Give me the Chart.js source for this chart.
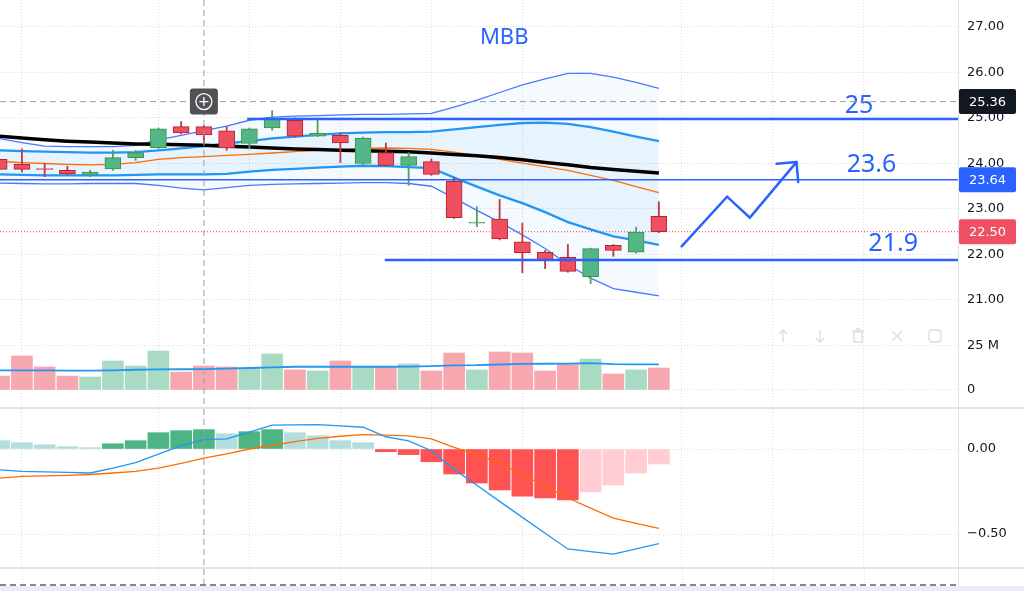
<!DOCTYPE html>
<html lang="en">
<head>
<meta charset="utf-8">
<title>MBB</title>
<script src="https://cdn.jsdelivr.net/npm/chart.js@4.4.1/dist/chart.umd.min.js"></script>
<style>
  html, body { margin: 0; padding: 0; background: #ffffff; }
  body { position: relative; width: 1024px; height: 591px; overflow: hidden; }
  canvas { position: absolute; left: 0; }
  #priceChart { top: 0; }
  #volumeChart { top: 318px; }
  #macdChart { top: 409px; }
  .sep { position: absolute; left: 0; width: 1024px; height: 2px; background: #e0e3eb; }
  #axisLine { position: absolute; left: 958px; top: 0; width: 1px; height: 591px; background: #e0e3eb; }
  #timeLine { position: absolute; left: 0; top: 584px; width: 958px; height: 2px;
    background: repeating-linear-gradient(to right, #868993 0 6px, transparent 6px 10px); }
  #bottomBar { position: absolute; left: 0; top: 586px; width: 1024px; height: 5px; background: #eeebf9; }
</style>
</head>
<body>
<canvas id="priceChart" width="1024" height="318"></canvas>
<canvas id="volumeChart" width="1024" height="90"></canvas>
<canvas id="macdChart" width="1024" height="176"></canvas>
<div class="sep" style="top:407px"></div>
<div class="sep" style="top:567px"></div>
<div id="axisLine"></div>
<div id="timeLine"></div>
<div id="bottomBar"></div>
<script>
// bar index (daily sessions, oldest on the left)
const barIndex = [0, 1, 2, 3, 4, 5, 6, 7, 8, 9, 10, 11, 12, 13, 14, 15, 16, 17, 18, 19, 20, 21, 22, 23, 24, 25, 26, 27, 28, 29];

// OHLC
const opens  = [24.09, 23.98, 23.89, 23.85, 23.76, 23.88, 24.13, 24.35, 24.81, 24.81, 24.72, 24.44, 24.78, 24.95, 24.60, 24.62, 24.00, 24.24, 23.96, 24.04, 23.61, 22.69, 22.78, 22.28, 22.05, 21.94, 21.51, 22.20, 22.05, 22.84];
const closes = [23.87, 23.87, 23.87, 23.77, 23.81, 24.13, 24.24, 24.76, 24.67, 24.63, 24.34, 24.76, 25.00, 24.60, 24.66, 24.45, 24.56, 23.96, 24.15, 23.76, 22.81, 22.71, 22.34, 22.04, 21.89, 21.63, 22.13, 22.09, 22.49, 22.50];
const highs  = [24.12, 24.32, 24.00, 23.94, 23.85, 24.29, 24.29, 24.78, 24.92, 24.83, 24.81, 24.78, 25.16, 25.00, 25.00, 24.67, 24.58, 24.45, 24.24, 24.10, 23.69, 23.05, 23.21, 22.69, 22.09, 22.22, 22.14, 22.22, 22.60, 23.16];
const lows   = [23.85, 23.81, 23.71, 23.75, 23.71, 23.85, 24.07, 24.33, 24.65, 24.45, 24.29, 24.32, 24.73, 24.58, 24.59, 24.02, 23.98, 23.94, 23.52, 23.74, 22.79, 22.61, 22.32, 21.60, 21.69, 21.61, 21.36, 21.96, 22.03, 22.48];

// moving averages
const maSlow = [24.60, 24.56, 24.52, 24.49, 24.47, 24.45, 24.43, 24.42, 24.41, 24.40, 24.38, 24.36, 24.34, 24.32, 24.31, 24.29, 24.28, 24.27, 24.26, 24.23, 24.20, 24.17, 24.13, 24.08, 24.02, 23.97, 23.91, 23.87, 23.83, 23.79];
const maFast = [24.05, 24.02, 24.00, 23.98, 23.97, 23.98, 24.02, 24.09, 24.13, 24.15, 24.18, 24.20, 24.23, 24.26, 24.29, 24.31, 24.33, 24.34, 24.33, 24.31, 24.25, 24.18, 24.09, 24.01, 23.93, 23.85, 23.74, 23.63, 23.49, 23.36];

// bands
const outerUpper = [24.55, 24.46, 24.38, 24.37, 24.37, 24.37, 24.40, 24.52, 24.62, 24.72, 24.82, 24.95, 25.02, 25.04, 25.05, 25.07, 25.08, 25.08, 25.09, 25.10, 25.24, 25.39, 25.56, 25.73, 25.86, 25.98, 25.98, 25.90, 25.78, 25.65];
const innerUpper = [24.29, 24.27, 24.26, 24.25, 24.24, 24.24, 24.25, 24.29, 24.33, 24.38, 24.44, 24.49, 24.55, 24.59, 24.63, 24.66, 24.68, 24.69, 24.69, 24.70, 24.75, 24.80, 24.85, 24.89, 24.90, 24.87, 24.80, 24.70, 24.59, 24.49];
const innerLower = [23.76, 23.75, 23.74, 23.74, 23.74, 23.74, 23.75, 23.76, 23.76, 23.76, 23.77, 23.82, 23.86, 23.88, 23.91, 23.93, 23.95, 23.94, 23.92, 23.90, 23.69, 23.49, 23.30, 23.13, 22.93, 22.71, 22.55, 22.40, 22.31, 22.21];
const outerLower = [23.57, 23.56, 23.55, 23.55, 23.56, 23.56, 23.56, 23.52, 23.46, 23.42, 23.47, 23.52, 23.54, 23.55, 23.56, 23.57, 23.58, 23.58, 23.56, 23.50, 23.24, 22.97, 22.71, 22.43, 22.13, 21.78, 21.48, 21.25, 21.17, 21.09];

// volume (millions) and its average
const volumes  = [7.9, 19.3, 13.1, 7.9, 7.4, 16.5, 13.6, 22.2, 10.2, 13.6, 13.1, 12.7, 20.5, 11.4, 10.8, 16.5, 13.1, 13.1, 14.8, 10.8, 21.0, 11.4, 21.6, 21.0, 10.8, 14.8, 17.6, 9.1, 11.4, 12.5];
const volumeMa = [11.2, 11.2, 11.1, 11.0, 11.0, 11.2, 11.5, 11.7, 11.8, 11.9, 12.1, 12.5, 12.9, 13.2, 13.2, 13.2, 13.2, 13.2, 13.3, 13.6, 14.0, 14.1, 14.5, 14.8, 14.9, 15.0, 15.3, 14.7, 14.6, 14.6];

// MACD
const macdLine   = [-0.122, -0.132, -0.134, -0.138, -0.141, -0.112, -0.080, -0.030, 0.020, 0.055, 0.059, 0.100, 0.141, 0.142, 0.143, 0.136, 0.128, 0.072, 0.048, -0.010, -0.120, -0.213, -0.308, -0.402, -0.496, -0.588, -0.604, -0.618, -0.588, -0.557];
const signalLine = [-0.172, -0.161, -0.158, -0.155, -0.150, -0.141, -0.131, -0.113, -0.085, -0.053, -0.028, 0.000, 0.022, 0.043, 0.062, 0.075, 0.085, 0.082, 0.077, 0.059, 0.010, -0.033, -0.084, -0.150, -0.220, -0.288, -0.348, -0.406, -0.437, -0.467];
const histogram  = [0.049, 0.037, 0.025, 0.014, 0.008, 0.031, 0.049, 0.096, 0.108, 0.114, 0.090, 0.102, 0.114, 0.096, 0.078, 0.049, 0.037, -0.016, -0.033, -0.075, -0.147, -0.200, -0.241, -0.277, -0.288, -0.300, -0.253, -0.212, -0.141, -0.088];

// drawn levels, markers and axis ticks
const levelValues = [24.98, 23.64, 21.88];
const levelTexts  = ['25', '23.6', '21.9'];
const lastPrice = 22.50;
const crossIndex = 9;
const crossPrice = 25.36;
const priceTicks  = [21, 22, 23, 24, 25, 26, 27];
const volumeTicks = [0, 25];
const macdTicks   = [-0.5, 0];
const gridX = [1, 7, 11, 15, 19, 23, 30, 34, 38];

const X_MIN = 0.037, X_MAX = 42.15;
const BLUE = '#2962ff';
const GRID = '#d9dce3';

Chart.defaults.font.family = 'DejaVu Sans';

const isUp = i => closes[i] >= opens[i];

function xAxis() {
  return {
    type: 'linear', min: X_MIN, max: X_MAX, offset: false,
    afterBuildTicks: s => { s.ticks = gridX.map(v => ({ value: v })); },
    ticks: { display: false },
    grid: { color: GRID, drawTicks: false, offset: false },
    border: { display: false, dash: [1, 2] }
  };
}

function yAxis(min, max, ticks, fmt) {
  return {
    position: 'right', min: min, max: max,
    afterBuildTicks: s => { s.ticks = ticks.map(v => ({ value: v })); },
    afterFit: s => { s.width = 66; s.paddingTop = 0; s.paddingBottom = 0; },
    ticks: { callback: fmt, color: '#131722', font: { size: 13 }, padding: 9 },
    grid: { color: GRID, drawTicks: false },
    border: { display: false, dash: [1, 2] }
  };
}

function baseOptions(scales, padBottom) {
  return {
    responsive: false,
    animation: false,
    events: [],
    layout: { padding: { left: 0, right: 0, top: 0, bottom: padBottom || 0 } },
    plugins: { legend: { display: false }, tooltip: { enabled: false } },
    scales: scales
  };
}

function crossVertical(chart, bottom) {
  const { ctx, chartArea, scales } = chart;
  const cx = scales.x.getPixelForValue(crossIndex);
  ctx.save();
  ctx.strokeStyle = '#9a9da6';
  ctx.lineWidth = 1;
  ctx.setLineDash([6, 4]);
  ctx.beginPath();
  ctx.moveTo(cx, 0);
  ctx.lineTo(cx, bottom !== undefined ? bottom : chartArea.bottom);
  ctx.stroke();
  ctx.restore();
}

function badge(ctx, x, yPix, text, color) {
  ctx.save();
  ctx.fillStyle = color;
  ctx.beginPath();
  ctx.roundRect(x + 1, yPix - 12.5, 57, 25, 2);
  ctx.fill();
  ctx.fillStyle = '#ffffff';
  ctx.font = '13px DejaVu Sans';
  ctx.textAlign = 'center';
  ctx.textBaseline = 'middle';
  ctx.fillText(text, x + 29.5, yPix + 1);
  ctx.restore();
}

// Price pane overlays: price line, crosshair, drawings, axis badges
const priceOverlay = {
  id: 'priceOverlay',
  beforeDatasetsDraw(chart) {
    const { ctx, chartArea: a, scales: { y } } = chart;
    const py = y.getPixelForValue(lastPrice);
    ctx.save();
    ctx.strokeStyle = '#f23645';
    ctx.lineWidth = 1;
    ctx.setLineDash([1, 2]);
    ctx.beginPath();
    ctx.moveTo(a.left, py);
    ctx.lineTo(a.right, py);
    ctx.stroke();
    ctx.restore();
  },
  afterDatasetsDraw(chart) {
    const { ctx, chartArea: a, scales: { x, y } } = chart;
    ctx.save();

    // title
    ctx.fillStyle = BLUE;
    ctx.font = '22px "Noto Sans"';
    ctx.textAlign = 'center';
    ctx.textBaseline = 'middle';
    ctx.fillText('MBB', x.getPixelForValue(22.2), y.getPixelForValue(26.77));

    // level captions
    ctx.font = '25px "Noto Sans"';
    const captionAt = [[37.8, 25.27], [38.35, 23.96], [39.3, 22.24]];
    levelTexts.forEach((t, k) => {
      ctx.fillText(t, x.getPixelForValue(captionAt[k][0]), y.getPixelForValue(captionAt[k][1]));
    });

    // expected path arrow
    const path = [[30, 22.18], [32, 23.27], [33, 22.81], [35.05, 24.03]];
    const pts = path.map(p => [x.getPixelForValue(p[0]), y.getPixelForValue(p[1])]);
    ctx.strokeStyle = BLUE;
    ctx.lineWidth = 2.5;
    ctx.lineJoin = 'miter';
    ctx.lineCap = 'round';
    ctx.beginPath();
    pts.forEach((p, k) => k ? ctx.lineTo(p[0], p[1]) : ctx.moveTo(p[0], p[1]));
    ctx.stroke();
    const tip = pts[3], from = pts[2];
    const back = Math.atan2(from[1] - tip[1], from[0] - tip[0]);
    ctx.beginPath();
    [back - Math.PI / 4, back + Math.PI / 4].forEach(ang => {
      ctx.moveTo(tip[0], tip[1]);
      ctx.lineTo(tip[0] + 20 * Math.cos(ang), tip[1] + 20 * Math.sin(ang));
    });
    ctx.stroke();

    // crosshair
    const cx = x.getPixelForValue(crossIndex);
    const cy = y.getPixelForValue(crossPrice);
    ctx.strokeStyle = '#9a9da6';
    ctx.lineWidth = 1;
    ctx.lineCap = 'butt';
    ctx.setLineDash([6, 4]);
    ctx.beginPath();
    ctx.moveTo(a.left, cy);
    ctx.lineTo(a.right, cy);
    ctx.moveTo(cx, 0);
    ctx.lineTo(cx, a.bottom);
    ctx.stroke();
    ctx.setLineDash([]);

    // "+" button at the crosshair
    ctx.fillStyle = '#505255';
    ctx.beginPath();
    ctx.roundRect(cx - 14, cy - 13, 28, 26, 3);
    ctx.fill();
    ctx.strokeStyle = '#ffffff';
    ctx.lineWidth = 1.3;
    ctx.beginPath();
    ctx.arc(cx, cy, 8, 0, Math.PI * 2);
    ctx.moveTo(cx - 4.5, cy);
    ctx.lineTo(cx + 4.5, cy);
    ctx.moveTo(cx, cy - 4.5);
    ctx.lineTo(cx, cy + 4.5);
    ctx.stroke();
    ctx.restore();
  },
  afterDraw(chart) {
    const { ctx, chartArea: a, scales: { y } } = chart;
    badge(ctx, a.right, y.getPixelForValue(crossPrice), crossPrice.toFixed(2), '#131722');
    badge(ctx, a.right, y.getPixelForValue(levelValues[1]), levelValues[1].toFixed(2), BLUE);
    badge(ctx, a.right, y.getPixelForValue(lastPrice), lastPrice.toFixed(2), '#ef5064');
  }
};

function levelLine(value, start, width) {
  return {
    type: 'line',
    data: [{ x: start, y: value }, { x: X_MAX, y: value }],
    borderColor: BLUE, borderWidth: width, pointRadius: 0, order: 0
  };
}

function series(values, color, width, order, extra) {
  return Object.assign({
    type: 'line',
    data: barIndex.map(i => ({ x: i, y: values[i] })),
    borderColor: color, borderWidth: width, pointRadius: 0, tension: 0, fill: false, order: order
  }, extra || {});
}

new Chart(document.getElementById('priceChart'), {
  type: 'bar',
  data: {
    datasets: [
      {
        data: barIndex.map(i => ({ x: i, y: [opens[i], closes[i]] })),
        backgroundColor: barIndex.map(i => isUp(i) ? '#53b686' : '#ee5062'),
        borderColor: barIndex.map(i => isUp(i) ? '#3f8f45' : '#b3222e'),
        borderWidth: 1, borderSkipped: false, barThickness: 16, grouped: false, order: 1
      },
      {
        data: barIndex.map(i => ({ x: i, y: [lows[i], highs[i]] })),
        backgroundColor: barIndex.map(i => isUp(i) ? '#5a9e5f' : '#c23a45'),
        barThickness: 1.2, grouped: false, order: 2
      },
      levelLine(levelValues[0], 10.9, 2.5),
      levelLine(levelValues[1], X_MIN, 1.5),
      levelLine(levelValues[2], 16.95, 2.5),
      series(maSlow, '#000000', 3.5, 5),
      series(maFast, '#ff6d00', 1.3, 6),
      series(innerUpper, '#2196f3', 2.3, 8, { fill: { target: 8, above: 'rgba(33,150,243,0.06)', below: 'rgba(33,150,243,0.06)' } }),
      series(innerLower, '#2196f3', 2.3, 7),
      series(outerUpper, 'rgba(41,98,255,0.85)', 1.3, 10, { fill: { target: 10, above: 'rgba(33,150,243,0.05)', below: 'rgba(33,150,243,0.05)' } }),
      series(outerLower, 'rgba(41,98,255,0.85)', 1.3, 9)
    ]
  },
  options: baseOptions({
    x: xAxis(),
    y: yAxis(20.604, 27.593, priceTicks, v => v.toFixed(2))
  }),
  plugins: [priceOverlay]
});

// Volume pane
const volumeOverlay = {
  id: 'volumeOverlay',
  afterDatasetsDraw(chart) {
    crossVertical(chart, chart.height);
    const { ctx, chartArea: a } = chart;
    const iy = 18;
    ctx.save();
    ctx.strokeStyle = '#d8dbe2';
    ctx.lineWidth = 1.3;
    // up / down arrows
    [[a.right - 175, 1], [a.right - 138, -1]].forEach(([ix, dir]) => {
      ctx.beginPath();
      ctx.moveTo(ix, iy - 6 * dir);
      ctx.lineTo(ix, iy + 6 * dir);
      ctx.moveTo(ix - 4, iy - 2 * dir);
      ctx.lineTo(ix, iy - 6 * dir);
      ctx.lineTo(ix + 4, iy - 2 * dir);
      ctx.stroke();
    });
    // bin
    let bx = a.right - 100;
    ctx.strokeRect(bx - 4, iy - 4, 8, 10);
    ctx.beginPath();
    ctx.moveTo(bx - 6, iy - 5); ctx.lineTo(bx + 6, iy - 5);
    ctx.moveTo(bx - 2, iy - 7); ctx.lineTo(bx + 2, iy - 7);
    ctx.stroke();
    // close
    bx = a.right - 61;
    ctx.beginPath();
    ctx.moveTo(bx - 5, iy - 5); ctx.lineTo(bx + 5, iy + 5);
    ctx.moveTo(bx + 5, iy - 5); ctx.lineTo(bx - 5, iy + 5);
    ctx.stroke();
    // maximize
    bx = a.right - 23;
    ctx.beginPath();
    ctx.roundRect(bx - 6, iy - 6, 12, 12, 3);
    ctx.stroke();
    ctx.restore();
  }
};

new Chart(document.getElementById('volumeChart'), {
  type: 'bar',
  data: {
    datasets: [
      {
        data: barIndex.map(i => ({ x: i, y: volumes[i] })),
        backgroundColor: barIndex.map(i => isUp(i) ? '#a9dbc4' : '#f6a8ae'),
        barThickness: 21, grouped: false, order: 1
      },
      series(volumeMa, '#2196f3', 1.8, 0)
    ]
  },
  options: baseOptions({
    x: xAxis(),
    y: yAxis(-10.23, 40.91, volumeTicks, v => v === 0 ? '0' : v + ' M')
  }),
  plugins: [volumeOverlay]
});

// MACD pane
const macdOverlay = {
  id: 'macdOverlay',
  afterDatasetsDraw(chart) {
    const { ctx, chartArea: a, scales: { x } } = chart;
    ctx.save();
    ctx.strokeStyle = GRID;
    ctx.lineWidth = 1;
    ctx.setLineDash([1, 2]);
    ctx.beginPath();
    gridX.forEach(v => {
      const gx = Math.round(x.getPixelForValue(v)) + 0.5;
      ctx.moveTo(gx, a.bottom);
      ctx.lineTo(gx, chart.height);
    });
    ctx.stroke();
    ctx.restore();
    crossVertical(chart, chart.height);
  }
};

function histColor(i) {
  const v = histogram[i];
  const prev = i > 0 ? histogram[i - 1] : (v >= 0 ? Infinity : -Infinity);
  if (v >= 0) return v > prev ? '#4db484' : '#b2dfdb';
  return v < prev ? '#ff5252' : '#ffcdd2';
}

new Chart(document.getElementById('macdChart'), {
  type: 'bar',
  data: {
    datasets: [
      {
        data: barIndex.map(i => ({ x: i, y: histogram[i] })),
        backgroundColor: barIndex.map(histColor),
        barThickness: 21, grouped: false, order: 2
      },
      series(macdLine, '#2196f3', 1.3, 0),
      series(signalLine, '#ff6d00', 1.3, 1)
    ]
  },
  options: baseOptions({
    x: xAxis(),
    y: yAxis(-0.694, 0.2353, macdTicks, v => v < 0 ? '\u2212' + Math.abs(v).toFixed(2) : v.toFixed(2))
  }, 18),
  plugins: [macdOverlay]
});
</script>
</body>
</html>
